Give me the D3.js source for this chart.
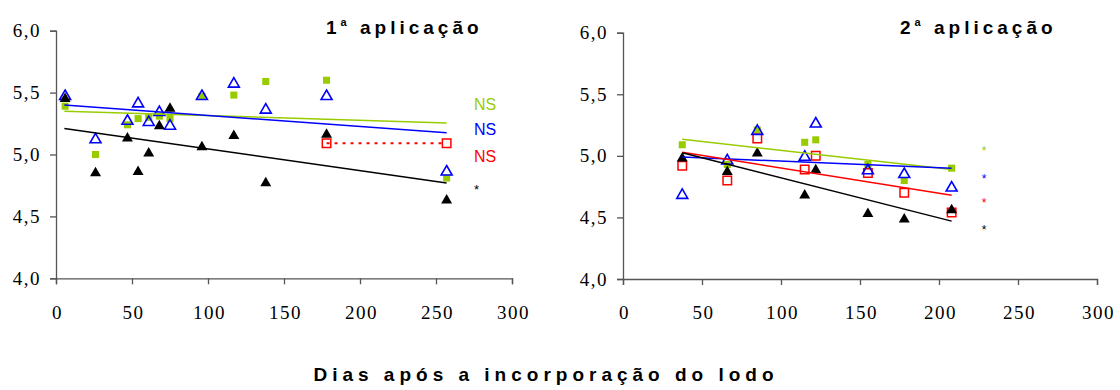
<!DOCTYPE html>
<html><head><meta charset="utf-8">
<script src="https://cdn.jsdelivr.net/npm/d3@7"></script>
<style>body{margin:0;background:#fff}svg{display:block}</style>
</head><body><svg id="c" width="1120" height="390"></svg>
<script>
// ---- data ----
const xTicks = [0, 50, 100, 150, 200, 250, 300];
const yTicks = [4.0, 4.5, 5.0, 5.5, 6.0];

const leftDays  = [6, 26, 47, 54, 61, 68, 75, 96, 117, 138, 178, 257];
const leftGreen = [5.39, 5.00, 5.24, 5.29, 5.30, 5.31, 5.29, 5.47, 5.48, 5.59, 5.60, 4.81];
const leftBlue  = [5.47, 5.12, 5.27, 5.41, 5.26, 5.34, 5.23, 5.47, 5.57, 5.36, 5.47, 4.86];
const leftBlack = [5.45, 4.85, 5.13, 4.86, 5.01, 5.23, 5.37, 5.06, 5.15, 4.77, 5.16, 4.63];
const leftRedDays = [178, 257];
const leftRed     = [5.09, 5.09];
const leftFitDays = [5.5, 257];
const leftFitGreen = [5.35, 5.255];
const leftFitBlue  = [5.40, 5.175];
const leftFitBlack = [5.21, 4.77];
const leftSig = [
  {t: "NS", v: 5.40, c: "#99cc00"},
  {t: "NS", v: 5.20, c: "#0000ff"},
  {t: "NS", v: 4.98, c: "#ff0000"},
  {t: "*",  v: 4.72, c: "#000000"}
];

const rightDays  = [37.5, 66, 85, 115, 122, 155, 178, 208];
const rightGreen = [5.09, 4.93, 5.21, 5.11, 5.13, 4.93, 4.80, 4.90];
const rightBlue  = [4.68, 4.96, 5.20, 4.99, 5.26, 4.88, 4.85, 4.74];
const rightRed   = [4.92, 4.80, 5.14, 4.89, 5.00, 4.86, 4.70, 4.54];
const rightBlack = [4.98, 4.87, 5.02, 4.68, 4.885, 4.53, 4.485, 4.56];
const rightFitDays = [37.5, 208];
const rightFitGreen = [5.134, 4.89];
const rightFitBlue  = [4.99, 4.90];
const rightFitRed   = [5.03, 4.68];
const rightFitBlack = [5.025, 4.47];
const rightSig = [
  {t: "*", v: 5.04, c: "#99cc00"},
  {t: "*", v: 4.81, c: "#0000ff"},
  {t: "*", v: 4.62, c: "#ff0000"},
  {t: "*", v: 4.40, c: "#000000"}
];

const GREEN = "#99cc00", BLUE = "#0000ff", RED = "#ff0000", BLACK = "#000000";
const svg = d3.select("#c");
const serif = "'Liberation Serif','Times New Roman',serif";
const sans = "'Liberation Sans',Arial,sans-serif";

function panel(cfg) {
  const x = d3.scaleLinear().domain([0, 300]).range([cfg.x0, cfg.x1]);
  const y = d3.scaleLinear().domain([4, 6]).range([cfg.y0, cfg.y1]);
  const g = svg.append("g");

  const ya = g.append("g").attr("transform", `translate(${cfg.x0},0)`)
    .call(d3.axisLeft(y).tickValues(yTicks).tickSize(6).tickPadding(9)
      .tickFormat(d => d3.format(".1f")(d).replace(".", ",")));
  const xa = g.append("g").attr("transform", `translate(0,${cfg.y0})`)
    .call(d3.axisBottom(x).tickValues(xTicks).tickSize(6).tickPadding(21));
  [ya, xa].forEach(a => {
    a.select(".domain").attr("stroke", "#555").attr("stroke-width", 1.3);
    a.selectAll(".tick line").attr("stroke", "#555").attr("stroke-width", 1.3);
    a.selectAll("text").attr("font-family", serif).attr("font-size", 19)
      .attr("letter-spacing", 1.5).attr("fill", "#000");
  });
  xa.selectAll("text").attr("dx", 1);

  const tri = d3.symbol().type(d3.symbolTriangle).size(52);
  const sq = d3.symbol().type(d3.symbolSquare).size(50);
  const sqo = d3.symbol().type(d3.symbolSquare).size(72);

  // green squares
  g.selectAll(null).data(cfg.days.map((d, i) => [d, cfg.green[i]])).join("path")
    .attr("d", sq).attr("transform", d => `translate(${x(d[0])},${y(d[1])})`).attr("fill", GREEN);
  // red open squares
  if (cfg.red) {
    g.selectAll(null).data(cfg.redDays.map((d, i) => [d, cfg.red[i]])).join("path")
      .attr("d", sqo).attr("transform", d => `translate(${x(d[0])},${y(d[1])})`)
      .attr("fill", "none").attr("stroke", RED).attr("stroke-width", 1.5);
  }
  // blue open triangles
  g.selectAll(null).data(cfg.days.map((d, i) => [d, cfg.blue[i]])).join("path")
    .attr("d", tri).attr("transform", d => `translate(${x(d[0])},${y(d[1])})`)
    .attr("fill", "none").attr("stroke", BLUE).attr("stroke-width", 1.6);
  // black triangles
  g.selectAll(null).data(cfg.days.map((d, i) => [d, cfg.black[i]])).join("path")
    .attr("d", tri).attr("transform", d => `translate(${x(d[0])},${y(d[1])})`).attr("fill", BLACK);

  const line = d3.line().x(d => x(d[0])).y(d => y(d[1]));
  cfg.fits.forEach(f => {
    g.append("path").datum(cfg.fitDays.map((d, i) => [d, f.v[i]]))
      .attr("d", line).attr("fill", "none").attr("stroke", f.c).attr("stroke-width", 1.5);
  });

  g.selectAll(null).data(cfg.sig).join("text")
    .attr("x", x(cfg.sigDay)).attr("y", d => y(d.v))
    .attr("dominant-baseline", "central")
    .attr("font-family", sans).attr("font-size", d => d.t === "*" ? cfg.starSize : 16)
    .attr("fill", d => d.c).text(d => d.t);

  const t = g.append("text").attr("x", cfg.titleX).attr("y", 34)
    .attr("font-family", sans).attr("font-weight", "bold").attr("font-size", 19)
    .attr("letter-spacing", 4).attr("fill", "#000");
  t.append("tspan").text(cfg.num);
  t.append("tspan").attr("font-size", 11).attr("dy", -8).text("a");
  t.append("tspan").attr("dy", 8).text(" aplicação");
  return {x, y, g};
}

const L = panel({
  x0: 56, x1: 512, y0: 278.3, y1: 30.7,
  days: leftDays, green: leftGreen, blue: leftBlue, black: leftBlack,
  red: leftRed, redDays: leftRedDays,
  fitDays: leftFitDays,
  fits: [{v: leftFitGreen, c: GREEN}, {v: leftFitBlue, c: BLUE}, {v: leftFitBlack, c: BLACK}],
  sig: leftSig, sigDay: 275, starSize: 13, titleX: 326, num: "1"
});
// red dotted line between the two red points (left panel)
L.g.append("path").datum(leftRedDays.map((d, i) => [d, leftRed[i]]))
  .attr("d", d3.line().x(d => L.x(d[0])).y(d => L.y(d[1])))
  .attr("stroke", RED).attr("stroke-width", 2).attr("stroke-dasharray", "3,5").attr("fill", "none");

panel({
  x0: 623, x1: 1097, y0: 279, y1: 32.7,
  days: rightDays, green: rightGreen, blue: rightBlue, black: rightBlack,
  red: rightRed, redDays: rightDays,
  fitDays: rightFitDays,
  fits: [{v: rightFitGreen, c: GREEN}, {v: rightFitBlue, c: BLUE}, {v: rightFitRed, c: RED}, {v: rightFitBlack, c: BLACK}],
  sig: rightSig, sigDay: 227, starSize: 12, titleX: 900, num: "2"
});

svg.append("text").attr("x", 546).attr("y", 381).attr("text-anchor", "middle")
  .attr("font-family", sans).attr("font-weight", "bold").attr("font-size", 19)
  .attr("letter-spacing", 5).attr("fill", "#000").text("Dias após a incorporação do lodo");
</script></body></html>
